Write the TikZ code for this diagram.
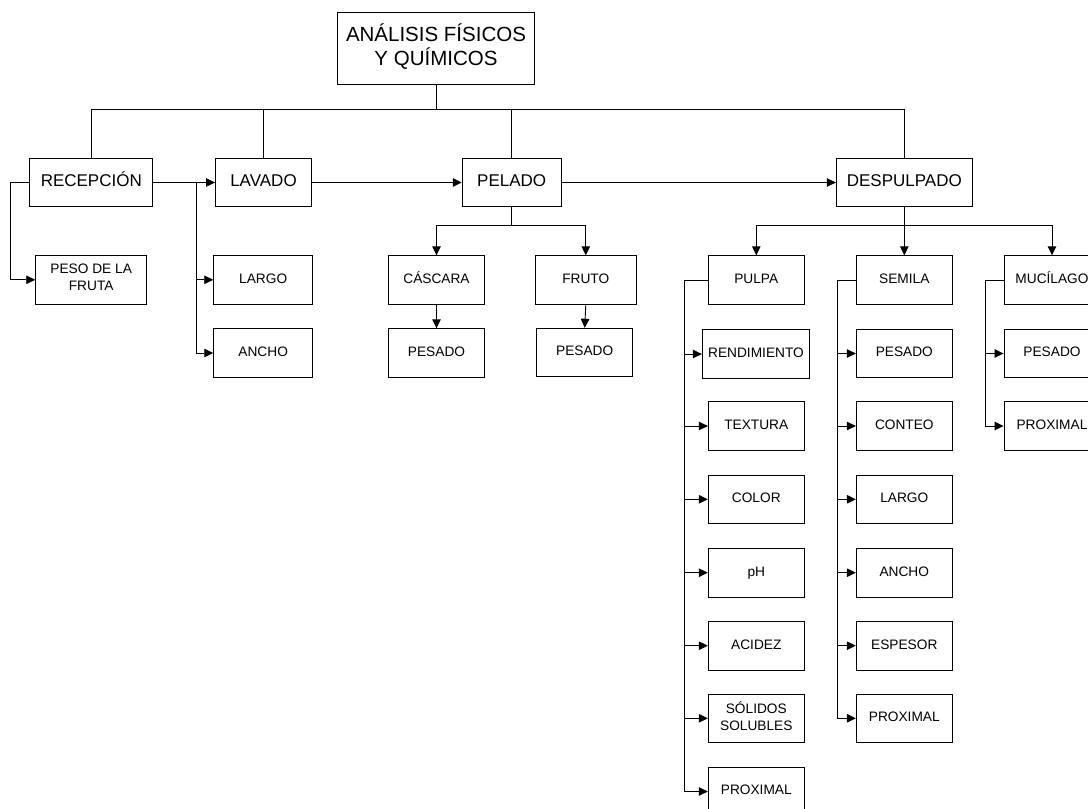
\documentclass[tikz,border=0pt]{standalone}
\usepackage{fontspec}
\setmainfont{Liberation Sans}
\usetikzlibrary{arrows.meta,positioning,calc}

\begin{document}
\begin{tikzpicture}[x=1pt,y=-1pt,line width=0.9pt,>={Triangle[length=9pt,width=8.5pt]},
    box/.style={draw,minimum width=96pt,minimum height=48.5pt,inner sep=1pt,align=center,
      execute at begin node=\strut,execute at end node=\strut,font=\fontsize{13.7}{16.7}\selectfont},
    stage/.style={box,font=\fontsize{17}{20}\selectfont}]
  \useasboundingbox (0,0) rectangle (1088,809);
  % titulo
  \node[box,minimum width=197pt,minimum height=72pt,font=\fontsize{20.5}{24}\selectfont] (title) at (436,48.3) {ANÁLISIS FÍSICOS\\Y QUÍMICOS};
  % etapas
  \node[stage,minimum width=123pt] (recep) at (91.3,182.5) {RECEPCIÓN};
  \node[stage] (lavado) at (263.5,182.5) {LAVADO};
  \node[stage,minimum width=99pt] (pelado) at (511.7,182.5) {PELADO};
  \node[stage,minimum width=136pt] (despul) at (904.3,182.5) {DESPULPADO};
  % recepcion y lavado
  \node[box,minimum width=111pt] (peso) at (91.2,279.8) {PESO DE LA\\FRUTA};
  \node[box,minimum width=99pt] (largo) at (263.2,279.8) {LARGO};
  \node[box,minimum width=99pt] (ancho) at (263.2,353) {ANCHO};
  % pelado
  \node[box] (casc) at (436.5,280) {CÁSCARA};
  \node[box] (pesc) at (436.5,353) {PESADO};
  \node[box,minimum width=101pt] (fruto) at (585.8,280) {FRUTO};
  \node[box] (pesf) at (584.7,352.5) {PESADO};
  % despulpado
  \node[box] (pulpa) at (756.3,280) {PULPA};
  \node[box] (semila) at (904.3,280) {SEMILA};
  \node[box] (mucil) at (1052,280) {MUCÍLAGO};
  \node[box,minimum width=107.4pt] (rend) at (756,354) {RENDIMIENTO};
  \node[box] (textu) at (756.3,426) {TEXTURA};
  \node[box] (color) at (756.3,499.3) {COLOR};
  \node[box] (ph) at (756.3,572.7) {pH};
  \node[box] (acid) at (756.3,645.7) {ACIDEZ};
  \node[box] (solid) at (756.3,718.3) {SÓLIDOS\\SOLUBLES};
  \node[box] (proxp) at (756.3,791.5) {PROXIMAL};
  \node[box] (pess) at (904.3,353.5) {PESADO};
  \node[box] (conteo) at (904.3,426) {CONTEO};
  \node[box] (largos) at (904.3,499.3) {LARGO};
  \node[box] (anchos) at (904.3,572.7) {ANCHO};
  \node[box] (espesor) at (904.3,645.7) {ESPESOR};
  \node[box] (proxs) at (904.3,718.3) {PROXIMAL};
  \node[box] (pesm) at (1052,353.5) {PESADO};
  \node[box] (proxm) at (1052,426) {PROXIMAL};

  % conectores
  \coordinate (bus) at (436,109);
  \draw (title.south) -- (bus);
  \draw (recep.north) -- (recep.north |- bus) -- (despul.north |- bus) -- (despul.north);
  \draw (lavado.north) -- (lavado.north |- bus);
  \draw (pelado.north) -- (pelado.north |- bus);
  \draw[->] (recep) -- (lavado);
  \draw[->] (lavado) -- (pelado);
  \draw[->] (pelado) -- (despul);

  \draw[->] (recep.west) -- ++(-18.7,0) |- (peso.west);
  \coordinate (lavsplit) at (196,182.5);
  \draw[->] (lavsplit) |- (largo.west);
  \draw[->] (lavsplit) |- (ancho.west);

  \coordinate (pelsplit) at (511.7,225);
  \draw (pelado.south) -- (pelsplit);
  \draw[->] (pelsplit) -| (casc.north);
  \draw[->] (pelsplit) -| (fruto.north);
  \draw[->] (casc) -- (pesc);
  \draw[->] (fruto.south) -- (pesf.north);

  \coordinate (despsplit) at (904.3,225.3);
  \draw[->] (despul.south) -- (semila.north);
  \draw[->] (despsplit) -| (pulpa.north);
  \draw[->] (despsplit) -| (mucil.north);

  \foreach \n in {rend,textu,color,ph,acid,solid,proxp}
    \draw[->] (pulpa.west) -- ++(-23.3,0) |- (\n.west);
  \foreach \n in {pess,conteo,largos,anchos,espesor,proxs}
    \draw[->] (semila.west) -- ++(-18.6,0) |- (\n.west);
  \foreach \n in {pesm,proxm}
    \draw[->] (mucil.west) -- ++(-18.3,0) |- (\n.west);
\end{tikzpicture}
\end{document}
